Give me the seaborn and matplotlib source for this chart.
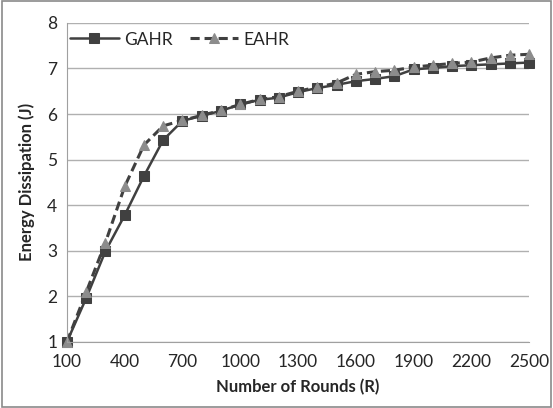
import numpy as np
import pandas as pd
import matplotlib
matplotlib.use("Agg")
import matplotlib.pyplot as plt
import seaborn as sns

rounds = list(range(100, 2600, 100))
gahr = [1.0, 1.96, 2.99, 3.78, 4.64, 5.43, 5.85, 5.96, 6.07, 6.21, 6.31, 6.36,
        6.48, 6.57, 6.64, 6.72, 6.77, 6.83, 6.98, 7.01, 7.05, 7.07, 7.09, 7.11, 7.13]
eahr = [1.0, 2.09, 3.18, 4.41, 5.32, 5.74, 5.86, 5.97, 6.08, 6.21, 6.32, 6.38,
        6.50, 6.59, 6.68, 6.87, 6.93, 6.96, 7.03, 7.07, 7.11, 7.14, 7.23, 7.29, 7.31]
xticks = [100, 400, 700, 1000, 1300, 1600, 1900, 2200, 2500]

df = pd.DataFrame({"rounds": rounds, "GAHR": gahr, "EAHR": eahr})

sns.set_style("white")
plt.rcParams["font.family"] = ["Lato", "DejaVu Sans"]

fig = plt.figure(figsize=(5.53, 4.08), dpi=100)
ax = fig.add_axes([0.121, 0.162, 0.836, 0.782])

sns.lineplot(data=df, x="rounds", y="GAHR", ax=ax, color="#404040", linewidth=1.8,
             marker="s", markersize=7.5, markerfacecolor="#404040",
             markeredgecolor="#404040", label="GAHR", clip_on=False)
sns.lineplot(data=df, x="rounds", y="EAHR", ax=ax, color="#404040", linewidth=2.2,
             linestyle=(0, (3, 1.6)), marker="^", markersize=6.5,
             markerfacecolor="#8c8c8c", markeredgecolor="#8c8c8c", label="EAHR",
             clip_on=False)

ax.set_xlim(100, 2500)
ax.set_ylim(1, 8)
ax.set_xticks(xticks)
ax.set_yticks(range(1, 9))
ax.yaxis.grid(True, color="#b0b0b0", linewidth=1)
ax.set_axisbelow(True)
for s in ["top", "right"]:
    ax.spines[s].set_visible(False)
for s in ["left", "bottom"]:
    ax.spines[s].set_color("#a0a0a0")
ax.tick_params(axis="x", direction="out", length=5, color="#a0a0a0", labelsize=12.5, pad=4)
ax.tick_params(axis="y", length=0, labelsize=12.5, pad=7)
ax.set_xlabel("Number of Rounds (R)", fontsize=12, fontweight="bold", labelpad=6)
ax.set_ylabel("Energy Dissipation (J)", fontsize=12, fontweight="bold", labelpad=9)

ax.legend(loc="upper left", ncol=2, frameon=False, fontsize=12.5, handlelength=2.8,
          columnspacing=1.0, handletextpad=0.3, borderaxespad=0.1,
          bbox_to_anchor=(-0.012, 1.0))

fig.patches.append(plt.Rectangle((0.003, 0.003), 0.994, 0.994, transform=fig.transFigure,
                                 fill=False, edgecolor="#8a8a8a", linewidth=1.2))

fig.savefig("out.png", dpi=100)
